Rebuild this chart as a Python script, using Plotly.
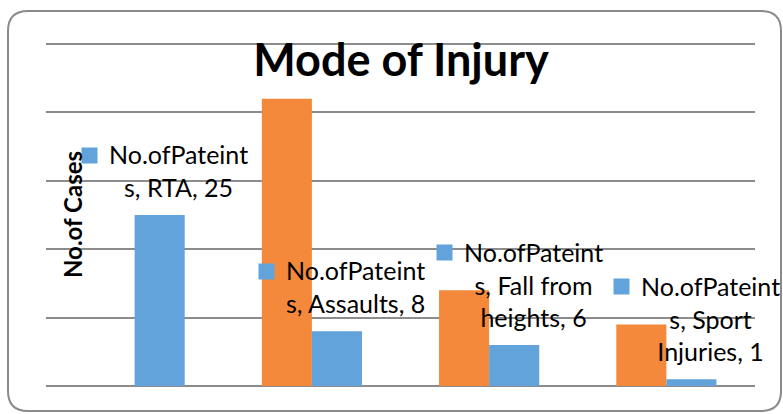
import plotly.graph_objects as go

# ---- data ----
categories = ["RTA", "Assaults", "Fall from heights", "Sport Injuries"]
category_label_lines = ["RTA", "Assaults", "Fall from<br>heights", "Sport<br>Injuries"]
series_orange_name = "Series1"
series_orange = [0, 42, 14, 9]
series_blue_name = "No.ofPateints"
series_blue = [25, 8, 6, 1]
chart_title = "Mode of Injury"
y_title = "No.of Cases"

# ---- styles / layout ----
W, H = 783, 414
Y_MAX = 50.3
# plot area in pixels: x 46.5..754.5, y(0)=386, y(50)=44
ML, MR, MB = 46, 28, 28
MT = int(round(H - MB - 342 * Y_MAX / 50))
BLUE = "#62A3DC"
ORANGE = "#F4883B"
GRID = "#8c8c8c"
FONT = "Lato"

fig = go.Figure()
fig.add_trace(go.Bar(x=categories, y=series_orange, name=series_orange_name,
                     marker=dict(color=ORANGE, line=dict(width=0))))
fig.add_trace(go.Bar(x=categories, y=series_blue, name=series_blue_name,
                     marker=dict(color=BLUE, line=dict(width=0))))

# data labels with legend keys (Excel style)
LINE_H = 32.5
for cat, lbl, v in zip(categories, category_label_lines, series_blue):
    text = f"{series_blue_name[:-1]}<br>{series_blue_name[-1]}, {lbl}, {v}"
    n_lines = text.count("<br>") + 1
    fig.add_annotation(x=cat, y=v, xref="x", yref="y", text=text,
                       showarrow=False, xanchor="center", yanchor="bottom",
                       align="center", xshift=44, yshift=12, borderpad=0,
                       font=dict(family=FONT, size=25, color="#000000"))
    fig.add_annotation(x=cat, y=v, xref="x", yref="y", text=" ",
                       showarrow=False, xanchor="center", yanchor="middle",
                       width=15, height=15, bgcolor=BLUE, borderpad=0,
                       xshift=-45, yshift=27.5 + (n_lines - 1) * LINE_H,
                       font=dict(size=1))

# conversions from page pixels to paper coordinates
pw, ph = W - ML - MR, H - MT - MB
def px(xs): return (xs - ML) / pw
def py(ys): return (H - MB - ys) / ph

# y-axis title overlapping the plot area as in the reference
fig.add_annotation(x=px(72), y=py(215), xref="paper", yref="paper",
                   text=f"<b>{y_title}</b>", textangle=-90, showarrow=False,
                   xanchor="center", yanchor="middle",
                   font=dict(family=FONT, size=24, color="#000000"))

# rounded chart border
L, R, T, B, r = 8, 781, 11, 411, 20
path = (f"M {px(L+r)},{py(T)} L {px(R-r)},{py(T)} Q {px(R)},{py(T)} {px(R)},{py(T+r)} "
        f"L {px(R)},{py(B-r)} Q {px(R)},{py(B)} {px(R-r)},{py(B)} "
        f"L {px(L+r)},{py(B)} Q {px(L)},{py(B)} {px(L)},{py(B-r)} "
        f"L {px(L)},{py(T+r)} Q {px(L)},{py(T)} {px(L+r)},{py(T)} Z")
fig.add_shape(type="path", path=path, xref="paper", yref="paper",
              line=dict(color="#8a8a8a", width=2), layer="below")

fig.update_layout(
    width=W, height=H,
    margin=dict(l=ML, r=MR, t=MT, b=MB, autoexpand=False),
    paper_bgcolor="white", plot_bgcolor="white",
    barmode="group", bargap=0.435, bargroupgap=0,
    showlegend=False,
    title=dict(text=f"<b>{chart_title}</b>", x=401 / W, xanchor="center",
               y=(H - 60) / H, yanchor="middle",
               font=dict(family=FONT, size=45, color="#000000")),
    xaxis=dict(type="category", range=[-0.5, 3.5], showticklabels=False,
               showgrid=False, zeroline=False, showline=False, ticks=""),
    yaxis=dict(range=[0, Y_MAX], dtick=10, showticklabels=False,
               showgrid=True, gridcolor=GRID, gridwidth=2,
               zeroline=True, zerolinecolor=GRID, zerolinewidth=2,
               showline=False, ticks=""),
)

fig.write_html("out.html",
               config={"displayModeBar": False},
               post_script="document.body.style.margin='0';"
                           "document.body.style.overflow='hidden';")
